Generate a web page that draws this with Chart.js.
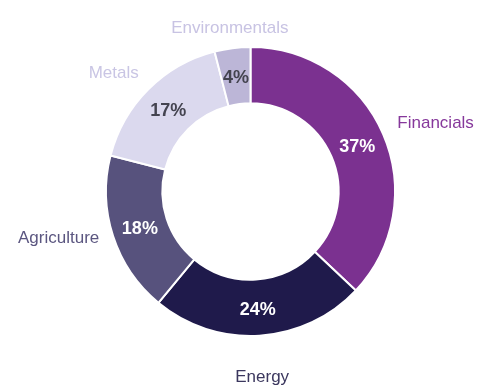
<!DOCTYPE html>
<html lang="en">
<head>
    <meta charset="UTF-8">
    <title>Commodity split</title>
    <script src="https://cdn.jsdelivr.net/npm/chart.js"></script>
    <style>
      html, body { margin: 0; padding: 0; background: #fff; }
      #wrap { width: 479px; height: 385px; }
    </style>
</head>
<body>
  <div id="wrap"><canvas id="mixChart" width="479" height="385"></canvas></div>
  <script>
    const sectors = ['Financials', 'Energy', 'Agriculture', 'Metals', 'Environmentals'];
    const shares = [37, 24, 18, 17, 4];
    const fills = ['#7b3190', '#1f1a4b', '#57527d', '#dbd9ee', '#bcb6d7'];
    const nameColors = ['#86389b', '#3b375e', '#5b5680', '#c9c5e4', '#c8c3e3'];
    const pctColors = ['#ffffff', '#ffffff', '#ffffff', '#444450', '#444450'];

    // radius / alignment / nudge per outside label
    const outside = [
      { r: 160, align: 'left', dy: -5 },
      { r: 186, align: 'center', dy: 0 },
      { r: 159, align: 'right', dy: -2 },
      { r: 158, align: 'right', dy: -6 },
      { r: 165, align: 'center', dy: 1 }
    ];

    const sliceLabels = {
      id: 'sliceLabels',
      afterDatasetsDraw(chart) {
        const c = chart.ctx;
        const meta = chart.getDatasetMeta(0);
        meta.data.forEach((arc, i) => {
          const p = arc.getProps(['x', 'y', 'startAngle', 'endAngle', 'innerRadius', 'outerRadius'], true);
          const mid = (p.startAngle + p.endAngle) / 2;
          const rIn = (p.innerRadius + p.outerRadius) / 2;
          c.save();
          c.textBaseline = 'middle';
          c.textAlign = 'center';
          c.font = 'bold 18px "Liberation Sans", Arial, sans-serif';
          c.fillStyle = pctColors[i];
          c.fillText(shares[i] + '%', p.x + Math.cos(mid) * rIn, p.y + Math.sin(mid) * rIn + 2);

          const o = outside[i];
          c.font = '17px "Liberation Sans", Arial, sans-serif';
          c.fillStyle = nameColors[i];
          c.textAlign = o.align;
          c.fillText(sectors[i], p.x + Math.cos(mid) * o.r, p.y + Math.sin(mid) * o.r + o.dy);
          c.restore();
        });
      }
    };

    new Chart(document.getElementById('mixChart'), {
      type: 'doughnut',
      data: {
        labels: sectors,
        datasets: [{
          data: shares,
          backgroundColor: fills,
          borderColor: '#ffffff',
          borderWidth: 2,
          hoverOffset: 0
        }]
      },
      options: {
        responsive: false,
        animation: false,
        cutout: '61%',
        layout: { padding: { top: 46, bottom: 48, left: 105, right: 83 } },
        plugins: {
          legend: { display: false },
          tooltip: { enabled: false }
        }
      },
      plugins: [sliceLabels]
    });
  </script>
</body>
</html>
